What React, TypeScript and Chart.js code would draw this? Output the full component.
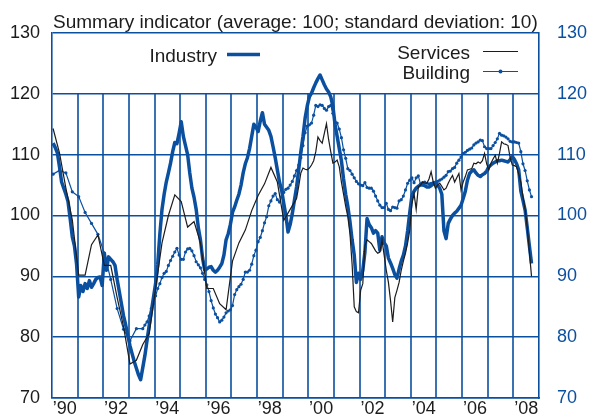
import React, { useEffect, useRef } from 'react';
import { Chart, registerables } from 'chart.js';

Chart.register(...registerables);

// ---------- DATA ----------
const TITLE = 'Summary indicator (average: 100; standard deviation: 10)';
const START_YEAR = 1990;
const END_YEAR = 2009;
const Y_MIN = 70;
const Y_MAX = 130;
const Y_STEP = 10;

// Industry: monthly, Jan 1990 .. Sep 2008
const industryMonthly = [
  111.9, 111.2, 110.3, 108, 105.5, 104.5, 103.5, 102.3, 99.5, 96.5, 95, 92,
  86.6, 88.5, 87.5, 88.8, 88, 89.3, 88.2, 88.8, 89.5, 89.8, 89.9, 88.5,
  93.8, 91, 93.2, 92.8, 92.4, 91.8, 89.5, 87.5, 85.5, 83.5, 82, 80.3,
  78.6, 77.3, 76, 74.9, 73.8, 73, 75, 77, 79.5, 81.9, 84.2, 86.5,
  88.8, 92, 97, 101, 103.5, 105.5, 107, 108.6, 110.5, 112, 111.8, 113.5,
  115.4, 113, 111.5, 110, 107, 104.5, 103, 101, 98, 96, 93, 91,
  91.2, 91.5, 91.6, 91, 90.7, 91, 91.5, 92.1, 93.5, 96, 97, 98.5,
  100.5, 101.4, 102.5, 103.5, 105, 107, 108.5, 109.5, 111, 113, 115, 114.5,
  113.8, 115.5, 116.9, 115, 114.5, 114, 113, 111.3, 109.5, 107.5, 105.5, 104.2,
  102, 100, 97.3, 98.5, 100.3, 102.5, 104.7, 107.5, 110.5, 113, 116, 118,
  119.5, 120.1, 121, 121.8, 122.5, 123.1, 122.3, 121.5, 120.8, 120.3, 119.5, 118,
  115, 113, 111, 109, 106, 103.5, 101.5, 99, 96, 93.5, 89, 90.5,
  89.5, 91, 94, 99.5, 98.5, 98, 97.1, 97.5, 97.1, 94.3, 96.5, 95.5,
  95, 93, 92.2, 91.3, 90.3, 89.7, 91.2, 92.5, 93.5, 95, 97.5, 100.5,
  103.2, 104, 104.5, 104.8, 105, 105, 104.9, 104.7, 104.7, 104.9, 105.2, 105.3,
  105, 104.5, 103.5, 97.5, 96.2, 98.7, 99.4, 100, 100.4, 100.7, 101.2, 101.7,
  102.8, 104, 105.8, 106.9, 107.3, 107.5, 107, 106.6, 106.4, 106.7, 106.9, 107.3,
  108, 108.3, 108.6, 108.8, 109, 109, 109.1, 109, 108.9, 108.8, 109.2, 109.7,
  109.2, 108.5, 107.5, 104, 102.5, 100.9, 98, 95, 92.1,
];

// Services: quarterly Jan 1990 .. Apr 1999, then monthly from Jul 1999
const servicesQuarterly = [
  114.3, 110.3, 104.5, 99.3, 90.2, 90.2, 95.2, 96.8, 91.8, 91.8, 86.5, 81.7,
  75.6, 76.2, 78.8, 80.6, 88, 95.5, 100, 103.4, 102.3, 98.1, 99, 95.5,
  88, 88, 85.5, 84.5, 92.5, 95.5, 97.6, 100.8, 103.3, 105.2, 107.9, 105.5,
  99.2, 101,
];
const SERVICES_MONTHLY_START = 114; // months after Jan 1990
const servicesMonthly = [
  102.8, 104.8, 107, 107.8, 107.6, 107.5,
  107.8, 108.3, 109, 110.5, 112.9, 112.3, 111.9, 113.5, 115.1, 112.5, 110.5, 108.6,
  108.8, 109.1, 108, 105.5, 103.5, 101.5, 99.8, 97, 92, 85, 84.2, 84,
  87.7, 88.8, 95, 96, 95.7, 95.4, 94.8, 94.2, 93.8, 94, 96, 93.5,
  91, 89, 86, 82.5, 86.5, 87.7, 89, 91, 92.5, 93.8, 95.5, 97.6,
  102, 103.6, 101, 104.7, 105, 105.5, 105.3, 105.3, 106, 107.2, 105.5, 104.5,
  105, 105.3, 104.8, 104.2, 104.5, 105.3, 106, 106.6, 105.5, 106.2, 106.9, 104.2,
  105.5, 106.4, 107.5, 107.6, 107.7, 108.6, 108.5, 108.8, 108.6, 109, 110.2, 108.5,
  107.5, 108.6, 109.3, 109.9, 108.6, 110.2, 112.1, 111.8, 111.7, 111.5, 109.5, 108.3,
  108.2, 108, 106.8, 105.5, 103.1, 101, 98, 94, 90,
];

// Building: quarterly Jan 1990 .. Jul 1993, then monthly from Aug 1993
const buildingQuarterly = [
  106.8, 107.4, 107, 103.9, 103.1, 100.5, 98.7, 96.9, 93.8, 89.5, 84.7, 81.3,
  79.4, 81.4, 81.4,
];
const BUILDING_MONTHLY_START = 43;
const buildingMonthly = [
  82, 82.5, 83.5, 84.7, 85.5,
  86.8, 88, 88.8, 89.8, 90.5, 90.8, 91.8, 92.6, 93.3, 94, 94.6, 93.5,
  92.8, 92.8, 94, 94.5, 94.6, 94.2, 93.4, 92.4, 91.9, 91.4, 90.5, 89.5,
  88.6, 87.5, 86, 84.8, 83.8, 83.2, 82.5, 82.8, 83.3, 84, 84.3, 84.5,
  85.2, 87, 87.8, 88.3, 88.7, 89.5, 90.7, 90.7, 91, 92, 93.4, 94.3,
  95.7, 96.4, 97.5, 98.8, 99.8, 101.6, 102.4, 103.2, 103.6, 102.6, 102.2, 103.1,
  103.8, 104.3, 104.5, 105, 105.6, 106.5, 107.4, 108.3, 109.5, 111.5, 113.6, 114.7,
  114.9, 115.2, 116.5, 118.1, 117.9, 118.2, 118.1, 117.6, 117.3, 117.9, 118.1, 116.8,
  115.4, 115.2, 114.2, 112.8, 110.8, 109.4, 107.7, 107.4, 106.8, 106.2, 105.6, 105.2,
  105, 104.9, 105.4, 104.6, 104.5, 104.5, 104, 103.2, 102.4, 101.7, 101.3, 101.3,
  102, 101, 100.8, 101.4, 101.3, 101.2, 102.4, 102.6, 103.2, 104.2, 105.3, 105.8,
  106.2, 105.4, 106.2, 106.5, 105.2, 105.4, 105.5, 105.3, 105.2, 105.3, 105.4, 105.5,
  105.6, 105.8, 106, 106.3, 106.6, 107.2, 107.3, 107.7, 107.9, 108.6, 109.1, 109.6,
  110.2, 110.4, 110.7, 110.9, 111.1, 111.6, 111.9, 112.1, 112.4, 112.3, 111.3, 111,
  111, 111, 111.5, 112, 112.6, 113.5, 113.2, 113.1, 112.9, 112.6, 112.2, 112.1,
  112.1, 112, 111.9, 110.5, 108.5, 107.4, 105.7, 104.2, 103.1,
];

const legendLabels = { industry: 'Industry', services: 'Services', building: 'Building' };

// ---------- STYLE ----------
const BLUE = '#0b4f9f';
const INK = '#1c1c1c';
const FONT = "'Liberation Sans', Arial, Helvetica, sans-serif";

const monthX = (m: number) => START_YEAR + (m + 0.5) / 12;

const industryPts = industryMonthly.map((v, i) => ({ x: monthX(i), y: v }));
const servicesPts = [
  ...servicesQuarterly.map((v, i) => ({ x: monthX(i * 3), y: v })),
  ...servicesMonthly.map((v, i) => ({ x: monthX(SERVICES_MONTHLY_START + i), y: v })),
];
const buildingPts = [
  ...buildingQuarterly.map((v, i) => ({ x: monthX(i * 3), y: v })),
  ...buildingMonthly.map((v, i) => ({ x: monthX(BUILDING_MONTHLY_START + i), y: v })),
];

const gridPlugin = {
  id: 'yearGrid',
  beforeDatasetsDraw(chart: any) {
    const { ctx, scales } = chart;
    const xs = scales.x;
    const ys = scales.y;
    const top = ys.getPixelForValue(120);
    const bottom = ys.getPixelForValue(Y_MIN);
    ctx.save();
    ctx.strokeStyle = BLUE;
    ctx.lineWidth = 1.6;
    for (let yr = START_YEAR + 1; yr < END_YEAR; yr++) {
      const px = Math.round(xs.getPixelForValue(yr));
      ctx.beginPath();
      ctx.moveTo(px, top);
      ctx.lineTo(px, bottom);
      ctx.stroke();
    }
    ctx.restore();
  },
};

const textPlugin = {
  id: 'texts',
  afterDraw(chart: any) {
    const { ctx } = chart;
    ctx.save();
    ctx.fillStyle = INK;
    ctx.font = `19px ${FONT}`;
    ctx.textBaseline = 'alphabetic';
    ctx.textAlign = 'left';
    ctx.fillText(TITLE, 53, 28);

    ctx.textAlign = 'right';
    ctx.fillText(legendLabels.industry, 217, 61.5);
    ctx.fillText(legendLabels.services, 470, 58.5);
    ctx.fillText(legendLabels.building, 470, 78.5);

    ctx.lineCap = 'butt';
    ctx.strokeStyle = BLUE;
    ctx.lineWidth = 3.5;
    ctx.beginPath();
    ctx.moveTo(227, 54.5);
    ctx.lineTo(260, 54.5);
    ctx.stroke();

    ctx.strokeStyle = INK;
    ctx.lineWidth = 1.2;
    ctx.beginPath();
    ctx.moveTo(483, 51.5);
    ctx.lineTo(518, 51.5);
    ctx.stroke();

    ctx.strokeStyle = BLUE;
    ctx.beginPath();
    ctx.moveTo(483, 71.5);
    ctx.lineTo(518, 71.5);
    ctx.stroke();
    ctx.fillStyle = BLUE;
    ctx.beginPath();
    ctx.arc(500.5, 71.5, 2, 0, Math.PI * 2);
    ctx.fill();
    ctx.restore();
  },
};

const fixVertical = (w: number) => (s: any) => {
  s.width = w;
  s.paddingTop = 0;
  s.paddingBottom = 0;
};

export default function App() {
  const ref = useRef<HTMLCanvasElement>(null);
  useEffect(() => {
    const chart = new Chart(ref.current as HTMLCanvasElement, {
      type: 'line',
      data: {
        datasets: [
          {
            label: legendLabels.services,
            data: servicesPts,
            borderColor: INK,
            borderWidth: 1.2,
            pointRadius: 0,
            tension: 0,
            yAxisID: 'y',
          },
          {
            label: legendLabels.building,
            data: buildingPts,
            borderColor: BLUE,
            borderWidth: 1.2,
            pointRadius: 1.6,
            pointBackgroundColor: BLUE,
            pointBorderWidth: 0,
            tension: 0,
            yAxisID: 'y',
          },
          {
            label: legendLabels.industry,
            data: industryPts,
            borderColor: BLUE,
            borderWidth: 3.5,
            pointRadius: 0,
            tension: 0,
            borderJoinStyle: 'round',
            yAxisID: 'y',
          },
        ],
      },
      options: {
        animation: false,
        responsive: false,
        devicePixelRatio: 1,
        layout: { padding: { top: 33, left: 0, right: 0, bottom: 0 } },
        plugins: {
          legend: { display: false },
          tooltip: { enabled: false },
          title: { display: false },
        },
        scales: {
          x: {
            type: 'linear',
            position: 'bottom',
            min: START_YEAR,
            max: END_YEAR,
            grid: { display: false, drawTicks: false },
            border: { display: true, color: BLUE, width: 1.6 },
            ticks: {
              stepSize: 0.5,
              autoSkip: false,
              maxRotation: 0,
              minRotation: 0,
              padding: 0,
              color: INK,
              font: { family: FONT, size: 18 },
              callback: (value: any) => {
                const v = Math.round(Number(value) * 2) / 2;
                if (v % 1 !== 0.5) return '';
                const yr = Math.floor(v);
                if (yr % 2 !== 0) return '';
                return '\u2019' + String(yr).slice(2);
              },
            },
            afterFit: (s: any) => {
              s.height = 21;
              s.paddingLeft = 0;
              s.paddingRight = 0;
            },
          },
          y: {
            position: 'left',
            min: Y_MIN,
            max: Y_MAX,
            grid: { color: BLUE, lineWidth: 1.6, drawTicks: false },
            border: { display: true, color: BLUE, width: 1.6 },
            ticks: {
              stepSize: Y_STEP,
              padding: 12,
              color: INK,
              font: { family: FONT, size: 18 },
            },
            afterFit: fixVertical(52),
          },
          y2: {
            position: 'right',
            min: Y_MIN,
            max: Y_MAX,
            grid: { display: false, drawTicks: false },
            border: { display: true, color: BLUE, width: 1.6 },
            ticks: {
              stepSize: Y_STEP,
              padding: 18,
              color: BLUE,
              font: { family: FONT, size: 18 },
            },
            afterFit: fixVertical(51),
          },
        },
      },
      plugins: [gridPlugin, textPlugin],
    } as any);
    return () => chart.destroy();
  }, []);

  return (
    <div style={{ position: 'fixed', left: 0, top: 0, width: 590, height: 419, background: '#fff' }}>
      <canvas ref={ref} width={590} height={419} style={{ display: 'block', width: 590, height: 419 }} />
    </div>
  );
}
